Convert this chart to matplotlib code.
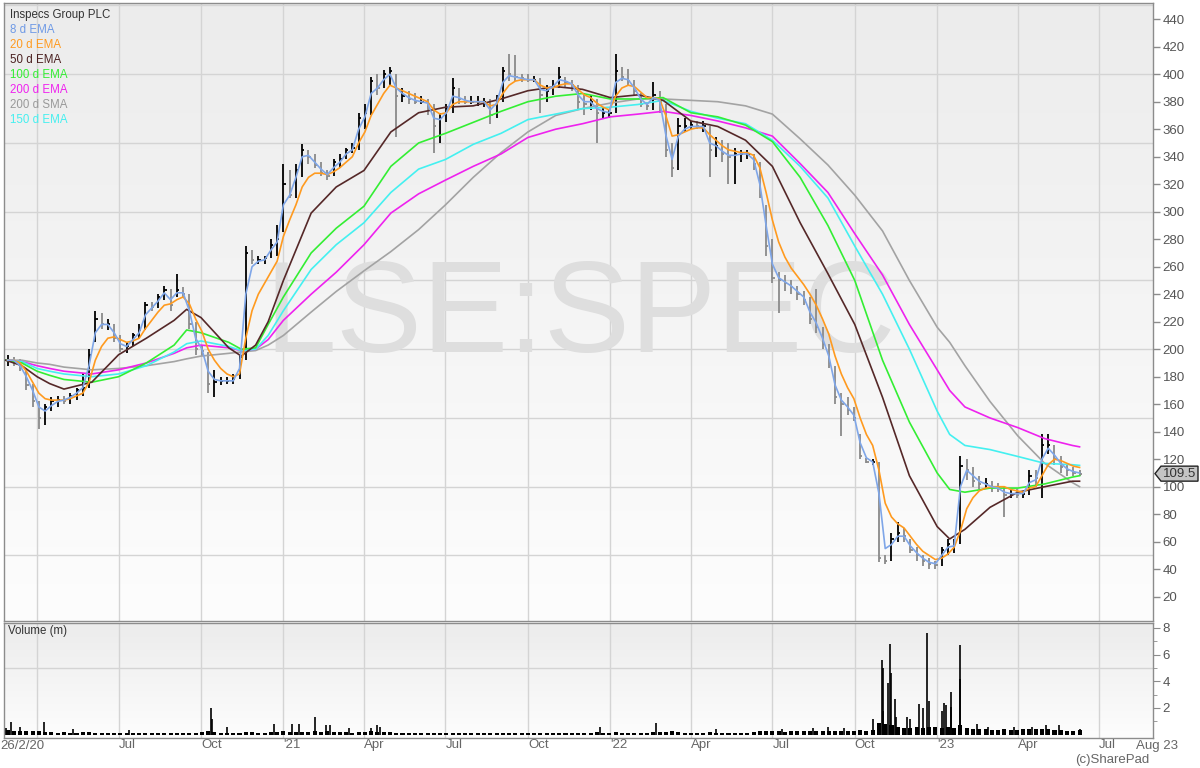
import numpy as np
import pandas as pd
import matplotlib
matplotlib.use('Agg')
import matplotlib.pyplot as plt
import matplotlib.dates as mdates
from matplotlib.colors import LinearSegmentedColormap
from matplotlib.patches import Polygon

plt.rcParams['font.family'] = ['Liberation Sans', 'DejaVu Sans']

# ---- weekly price bars (week dates from 28 Feb 2020) ----
week_first = '2020-02-28'
price_high = [196, 194, 193, 186, 175, 162, 160, 165, 166, 166,
              168, 172, 183, 200, 228, 226, 222, 218, 210, 205,
              212, 218, 234, 234, 240, 246, 244, 255, 245, 240,
              220, 203, 198, 185, 180, 180, 182, 196, 275, 272,
              268, 268, 280, 290, 335, 330, 335, 349, 345, 342,
              336, 330, 338, 342, 346, 350, 372, 378, 398, 400,
              403, 405, 400, 390, 388, 386, 384, 382, 378, 372,
              378, 397, 390, 384, 384, 384, 383, 382, 385, 405,
              415, 414, 400, 400, 399, 397, 392, 396, 405, 398,
              396, 392, 386, 385, 382, 376, 375, 415, 405, 404,
              396, 386, 380, 394, 388, 378, 350, 368, 368, 366,
              366, 366, 362, 354, 352, 350, 346, 345, 345, 342,
              336, 305, 280, 256, 254, 250, 246, 242, 238, 244,
              216, 204, 188, 168, 165, 158, 138, 121, 120, 118,
              50, 66, 74, 70, 62, 56, 50, 48, 46, 56,
              62, 62, 122, 120, 114, 108, 106, 104, 103, 100,
              98, 98, 97, 112, 112, 138, 138, 130, 122, 116,
              114, 112]
price_low = [188, 188, 184, 170, 158, 142, 145, 155, 158, 160,
             160, 163, 166, 172, 205, 215, 214, 205, 198, 197,
             202, 208, 214, 228, 230, 236, 228, 238, 238, 215,
             196, 195, 168, 165, 174, 175, 175, 178, 192, 262,
             262, 262, 266, 268, 285, 310, 310, 325, 335, 332,
             326, 323, 326, 332, 338, 343, 345, 360, 370, 385,
             390, 392, 354, 380, 378, 378, 378, 370, 343, 350,
             365, 372, 378, 378, 378, 377, 376, 364, 368, 380,
             395, 395, 394, 394, 394, 372, 380, 385, 390, 390,
             388, 375, 370, 374, 350, 368, 368, 372, 395, 392,
             384, 376, 374, 374, 372, 340, 325, 330, 358, 360,
             360, 358, 325, 340, 336, 320, 320, 336, 338, 330,
             310, 268, 248, 226, 242, 240, 236, 232, 218, 212,
             200, 186, 160, 137, 152, 148, 120, 117, 116, 45,
             44, 46, 60, 60, 52, 46, 42, 40, 40, 42,
             50, 52, 58, 105, 100, 98, 99, 96, 96, 78,
             92, 92, 92, 94, 100, 92, 124, 116, 110, 108,
             108, 108]
price_close = [192, 191, 186, 174, 162, 150, 158, 162, 163, 162,
               166, 170, 172, 196, 222, 218, 218, 208, 200, 202,
               210, 214, 232, 231, 238, 243, 232, 243, 240, 218,
               200, 199, 175, 176, 177, 177, 178, 194, 270, 265,
               265, 266, 276, 280, 320, 312, 330, 345, 340, 334,
               328, 326, 336, 338, 345, 346, 368, 372, 395, 390,
               400, 402, 384, 384, 382, 380, 380, 378, 362, 368,
               375, 390, 382, 380, 380, 380, 380, 370, 382, 402,
               400, 398, 397, 396, 396, 385, 388, 392, 398, 394,
               392, 380, 378, 380, 372, 372, 372, 402, 398, 395,
               388, 378, 377, 385, 380, 345, 332, 362, 362, 363,
               362, 362, 345, 348, 342, 340, 342, 342, 342, 335,
               312, 275, 252, 250, 248, 245, 240, 236, 222, 216,
               204, 190, 165, 160, 156, 150, 122, 118, 118, 48,
               46, 62, 66, 64, 54, 50, 46, 44, 43, 54,
               58, 58, 115, 112, 104, 102, 102, 100, 99, 94,
               95, 94, 95, 108, 106, 130, 130, 120, 114, 112,
               110, 109.5]
ema8 = [192, 192, 188, 180, 170, 158, 155, 159, 162, 163,
        165, 168, 172, 188, 212, 218, 218, 212, 204, 202,
        207, 212, 225, 230, 235, 241, 236, 241, 241, 228,
        208, 200, 184, 178, 177, 177, 177, 186, 240, 260,
        264, 265, 272, 278, 305, 312, 325, 340, 341, 336,
        331, 327, 332, 336, 342, 345, 360, 369, 386, 390,
        396, 400, 390, 386, 383, 381, 380, 379, 368, 367,
        372, 384, 383, 381, 380, 380, 380, 374, 379, 394,
        399, 398, 397, 396, 396, 389, 388, 391, 396, 395,
        393, 385, 380, 380, 375, 373, 372, 394, 397, 396,
        390, 382, 378, 383, 381, 356, 338, 355, 360, 362,
        362, 362, 350, 348, 344, 341, 341, 342, 342, 338,
        320, 290, 262, 252, 249, 246, 242, 238, 227, 219,
        208, 195, 174, 163, 158, 152, 132, 121, 118, 95,
        55, 58, 64, 64, 57, 52, 48, 45, 44, 50,
        56, 57, 100, 112, 108, 104, 102, 100, 99, 96,
        95, 95, 95, 103, 105, 120, 128, 123, 117, 113,
        111, 110]
ema20 = [192, 192, 190, 184, 176, 168, 164, 163, 163, 163,
         164, 166, 168, 176, 192, 202, 208, 209, 207, 205,
         206, 208, 215, 221, 227, 232, 233, 236, 238, 233,
         222, 213, 200, 192, 186, 182, 180, 182, 208, 228,
         240, 248, 256, 264, 282, 294, 305, 318, 325, 328,
         328, 327, 329, 332, 336, 340, 350, 358, 370, 378,
         386, 392, 390, 388, 386, 384, 382, 380, 374, 371,
         372, 378, 380, 380, 380, 380, 380, 377, 378, 386,
         392, 395, 396, 396, 396, 392, 390, 390, 392, 393,
         393, 389, 385, 383, 379, 376, 374, 384, 390, 392,
         391, 387, 383, 383, 382, 370, 355, 356, 358, 360,
         361, 361, 356, 352, 348, 345, 344, 343, 343, 341,
         332, 314, 294, 278, 267, 259, 253, 247, 240, 232,
         222, 211, 195, 182, 172, 164, 150, 138, 130, 112,
         88, 78, 73, 70, 64, 58, 53, 50, 47, 48,
         51, 56, 68, 84, 92, 97, 99, 100, 100, 100,
         98, 97, 96, 99, 100, 108, 116, 120, 119, 117,
         115, 114]

# ---- slower averages, read at month anchors ----
ma_dates = ['2020-02-26', '2020-03-15', '2020-04-01', '2020-04-15', '2020-05-01',
            '2020-06-01', '2020-07-01', '2020-08-01', '2020-09-01', '2020-09-15',
            '2020-10-01', '2020-11-01', '2020-11-15', '2020-12-01', '2020-12-15',
            '2021-01-01', '2021-02-01', '2021-03-01', '2021-04-01', '2021-05-01',
            '2021-06-01', '2021-07-01', '2021-08-01', '2021-09-01', '2021-10-01',
            '2021-11-01', '2021-12-01', '2022-01-01', '2022-02-01', '2022-03-01',
            '2022-04-01', '2022-05-01', '2022-06-01', '2022-07-01', '2022-08-01',
            '2022-09-01', '2022-10-01', '2022-11-01', '2022-12-01', '2023-01-01',
            '2023-01-15', '2023-02-01', '2023-03-01', '2023-04-01', '2023-05-01',
            '2023-06-01', '2023-06-09']
ema50 = [192, 188, 180, 175, 171, 176, 196, 208, 221, 229,
         223, 201, 195, 203, 220, 250, 299, 318, 330, 358,
         372, 376, 377, 382, 388, 391, 389, 383, 385, 381,
         366, 362, 352, 333, 292, 255, 218, 165, 108, 71,
         62, 69, 85, 96, 100, 104, 104]
ema100 = [192, 190, 184, 181, 178, 176, 180, 190, 203, 214,
          212, 205, 200, 201, 218, 238, 270, 288, 304, 333,
          350, 357, 365, 373, 380, 384, 386, 382, 382, 383,
          372, 369, 363, 351, 325, 290, 250, 192, 147, 110,
          98, 96, 99, 99, 102, 107, 108]
ema150 = [192, 191, 186, 184, 182, 180, 182, 188, 198, 204,
          206, 202, 199, 200, 210, 228, 258, 276, 292, 314,
          331, 338, 349, 357, 367, 371, 375, 376, 378, 381,
          373, 368, 364, 352, 333, 310, 275, 240, 200, 155,
          138, 130, 127, 122, 117, 116, 115.5]
ema200 = [192, 191, 188, 186, 184, 182, 185, 190, 197, 201,
          203, 201, 199, 200, 207, 221, 240, 256, 276, 299,
          313, 323, 333, 342, 354, 360, 364, 369, 371, 373,
          370, 366, 361, 355, 335, 314, 284, 254, 218, 185,
          170, 158, 150, 143, 135, 130, 129]
sma200 = [192, 192, 190, 189, 187, 185, 186, 188, 191, 193,
          195, 197, 198, 199, 203, 210, 227, 242, 257, 271,
          287, 305, 325, 343, 358, 370, 375, 379, 382, 382,
          381, 380, 377, 371, 353, 334, 312, 286, 250, 216,
          205, 188, 162, 137, 117, 103, 100]

# ---- volume (m): typical weekly level plus big single days ----
vol_week = [0.35, 0.30, 0.30, 0.25, 0.30, 0.30, 0.20, 0.20, 0.15, 0.20,
            0.15, 0.15, 0.20, 0.20, 0.15, 0.15, 0.15, 0.15, 0.15, 0.15,
            0.15, 0.15, 0.15, 0.15, 0.15, 0.15, 0.15, 0.15, 0.15, 0.15,
            0.15, 0.20, 0.25, 0.20, 0.15, 0.15, 0.15, 0.15, 0.20, 0.20,
            0.15, 0.15, 0.20, 0.20, 0.25, 0.20, 0.20, 0.20, 0.20, 0.25,
            0.20, 0.25, 0.20, 0.20, 0.20, 0.15, 0.20, 0.20, 0.25, 0.20,
            0.20, 0.20, 0.15, 0.15, 0.15, 0.15, 0.15, 0.15, 0.15, 0.15,
            0.15, 0.15, 0.15, 0.15, 0.15, 0.15, 0.15, 0.15, 0.15, 0.15,
            0.15, 0.15, 0.15, 0.15, 0.15, 0.15, 0.15, 0.15, 0.15, 0.15,
            0.15, 0.15, 0.15, 0.15, 0.20, 0.15, 0.15, 0.20, 0.15, 0.15,
            0.15, 0.15, 0.15, 0.20, 0.20, 0.20, 0.25, 0.20, 0.15, 0.15,
            0.15, 0.15, 0.20, 0.15, 0.15, 0.15, 0.15, 0.15, 0.15, 0.20,
            0.25, 0.30, 0.30, 0.25, 0.20, 0.25, 0.30, 0.30, 0.25, 0.30,
            0.30, 0.30, 0.30, 0.30, 0.25, 0.30, 0.35, 0.30, 0.35, 0.90,
            0.80, 0.70, 0.60, 0.50, 0.50, 0.60, 0.50, 0.60, 0.60, 0.50,
            0.60, 0.50, 0.70, 0.50, 0.40, 0.40, 0.40, 0.35, 0.35, 0.40,
            0.35, 0.35, 0.40, 0.40, 0.40, 0.45, 0.40, 0.35, 0.35, 0.30,
            0.30, 0.35]
spike_dates = ['2020-02-26', '2020-03-03', '2020-03-13', '2020-04-09', '2020-05-11',
               '2020-07-13', '2020-10-12', '2020-10-13', '2020-10-30', '2020-12-21',
               '2021-01-11', '2021-01-18', '2021-02-05', '2021-02-18', '2021-02-22',
               '2021-03-15', '2021-04-09', '2021-04-16', '2021-04-19', '2021-12-20',
               '2022-02-21', '2022-04-29', '2022-07-12', '2022-08-15', '2022-09-01',
               '2022-09-19', '2022-10-21', '2022-10-31', '2022-11-01', '2022-11-02',
               '2022-11-07', '2022-11-09', '2022-11-10', '2022-11-15', '2022-11-16',
               '2022-11-28', '2022-12-02', '2022-12-12', '2022-12-16', '2022-12-21',
               '2022-12-23', '2023-01-06', '2023-01-09', '2023-01-11', '2023-01-16',
               '2023-01-17', '2023-01-26', '2023-01-27', '2023-02-14', '2023-02-27',
               '2023-03-28', '2023-04-17', '2023-05-03', '2023-05-17', '2023-06-09']
spike_vol = [0.5, 0.95, 0.55, 0.95, 0.4, 0.35, 2.0, 1.2, 0.6, 0.8,
             0.8, 0.8, 1.35, 0.7, 0.75, 0.5, 0.5, 0.7, 0.55, 0.55,
             0.85, 0.45, 0.45, 0.5, 0.55, 0.5, 1.2, 5.6, 5.0, 1.8,
             3.9, 6.8, 4.6, 2.7, 1.3, 1.3, 1.2, 2.3, 2.0, 7.6,
             2.5, 1.8, 2.4, 2.2, 3.2, 2.1, 6.7, 4.2, 0.8, 0.6,
             0.6, 0.6, 0.7, 0.7, 0.4]

last_price = 109.5
quarter_labels = ['', 'Jul', 'Oct', "'21", 'Apr', 'Jul', 'Oct', "'22", 'Apr',
                  'Jul', 'Oct', "'23", 'Apr', 'Jul']
legend_items = [('Inspecs Group PLC', '#333333'), ('8 d EMA', '#6f9ae6'),
                ('20 d EMA', '#ff9a1f'), ('50 d EMA', '#4a2020'),
                ('100 d EMA', '#33ee33'), ('200 d EMA', '#ee22ee'),
                ('200 d SMA', '#999999'), ('150 d EMA', '#44f0f0')]

# ---------------------------------------------------------------
W, H = 1200, 768
fig = plt.figure(figsize=(12, 7.68), dpi=100, facecolor='white')
rect_main = [4 / W, (H - 621) / H, 1149 / W, 618 / H]
rect_vol = [4 / W, (H - 738) / H, 1149 / W, 115 / H]

grad = LinearSegmentedColormap.from_list('bg', ['#fdfdfd', '#ececec'])
for r in (rect_main, rect_vol):
    bg = fig.add_axes(r, zorder=0)
    bg.imshow(np.linspace(0, 1, 256).reshape(-1, 1), cmap=grad, origin='lower',
              aspect='auto', extent=[0, 1, 0, 1])
    bg.axis('off')

ax = fig.add_axes(rect_main, zorder=1)
axv = fig.add_axes(rect_vol, zorder=1, sharex=ax)
for a in (ax, axv):
    a.set_facecolor('none')
    for s in a.spines.values():
        s.set_color('#8c8c8c')
        s.set_linewidth(1)

weeks = pd.date_range(week_first, periods=len(price_close), freq='7D')
mad = pd.to_datetime(ma_dates)
quarters = pd.date_range('2020-04-01', '2023-07-01', freq='QS')

x0 = mdates.date2num(pd.Timestamp('2020-02-24 01:00'))
x1 = mdates.date2num(pd.Timestamp('2023-08-30'))

# grid
for a in (ax, axv):
    for q in quarters:
        a.axvline(q, color='#d4d4d4', lw=1, zorder=1)
for v in range(50, 451, 50):
    ax.axhline(v, color='#d4d4d4', lw=1, zorder=1)
axv.axhline(5, color='#d4d4d4', lw=1, zorder=1)

# watermark
ax.text(0.501, 0.490, 'LSE:SPEC', transform=ax.transAxes, ha='center', va='center',
        fontsize=93, color='#dedede', zorder=1.5)

# price bars
close = np.array(price_close)
prev = np.concatenate([[close[0]], close[:-1]])
bar_cols = ['#000000' if c >= p else '#8a8a8a' for c, p in zip(close, prev)]
ax.vlines(weeks, price_low, price_high, colors=bar_cols, lw=1.3, zorder=3)
ax.hlines(price_close, weeks, weeks + pd.Timedelta(days=2.5), colors=bar_cols, lw=1.3, zorder=3)

# moving averages
ax.plot(mad, sma200, color='#a3a3a3', lw=1.2, zorder=4)
ax.plot(mad, ema200, color='#ee22ee', lw=1.2, zorder=4)
ax.plot(mad, ema150, color='#44f0f0', lw=1.2, zorder=4)
ax.plot(mad, ema100, color='#33ee33', lw=1.2, zorder=4)
ax.plot(mad, ema50, color='#552828', lw=1.2, zorder=4)
ax.plot(weeks, ema20, color='#ff9a1f', lw=1.2, zorder=5)
ax.plot(weeks, ema8, color='#7fa6e8', lw=1.2, zorder=5)

ax.set_xlim(x0, x1)
ax.set_ylim(2.33, 451.8)
ax.yaxis.tick_right()
ax.set_yticks(range(20, 441, 20))
ax.tick_params(axis='y', direction='out', length=5, width=1, color='#8c8c8c',
               labelcolor='#555555', labelsize=9.5, pad=2)
ax.tick_params(axis='x', length=0, labelbottom=False)

# last price tag
tr = ax.get_yaxis_transform()
px = lambda p: (p - 4) / 1149.0
dv = 7.5 / 1.375
tag = Polygon([(px(1155), last_price), (px(1161), last_price + dv), (px(1198), last_price + dv),
               (px(1198), last_price - dv), (px(1161), last_price - dv)],
              closed=True, transform=tr, facecolor='#c4c4c4', edgecolor='#222222',
              lw=1, clip_on=False, zorder=10)
ax.add_patch(tag)
ax.text(px(1180), last_price, f'{last_price}', transform=tr, ha='center', va='center',
        fontsize=9.5, color='#333333', zorder=11, clip_on=False)

# volume
axv.bar(weeks, vol_week, width=4.5, color='black', zorder=3)
axv.vlines(pd.to_datetime(spike_dates), 0, spike_vol, colors='black', lw=1.2, zorder=3)
axv.set_ylim(-0.25, 8.37)
axv.yaxis.tick_right()
axv.set_yticks([2, 4, 6, 8])
axv.set_yticks([1, 3, 5, 7], minor=True)
axv.tick_params(axis='y', which='major', direction='out', length=5, color='#8c8c8c',
                labelcolor='#555555', labelsize=9.5, pad=2)
axv.tick_params(axis='y', which='minor', direction='out', length=3, color='#8c8c8c')
axv.set_xticks(quarters)
axv.set_xticklabels(quarter_labels, ha='left')
axv.tick_params(axis='x', length=0, labelcolor='#666666', labelsize=9.5, pad=1)
axv.set_xlim(x0, x1)

# texts
for k, (t, c) in enumerate(legend_items):
    fig.text(10 / W, 1 - (15 + 15 * k) / H, t, color=c, fontsize=8.3, va='center', ha='left')
fig.text(8 / W, 1 - 631 / H, 'Volume (m)', color='#333333', fontsize=8.3, va='center')
fig.text(0 / W, 1 - 746 / H, '26/2/20', color='#666666', fontsize=9.5, va='center', ha='left')
fig.text(1157 / W, 1 - 746 / H, 'Aug 23', color='#666666', fontsize=9.5, va='center', ha='center')
fig.text(1149 / W, 1 - 760 / H, '(c)SharePad', color='#666666', fontsize=9.5, va='center', ha='right')

fig.savefig('out.png', dpi=100, facecolor='white')
